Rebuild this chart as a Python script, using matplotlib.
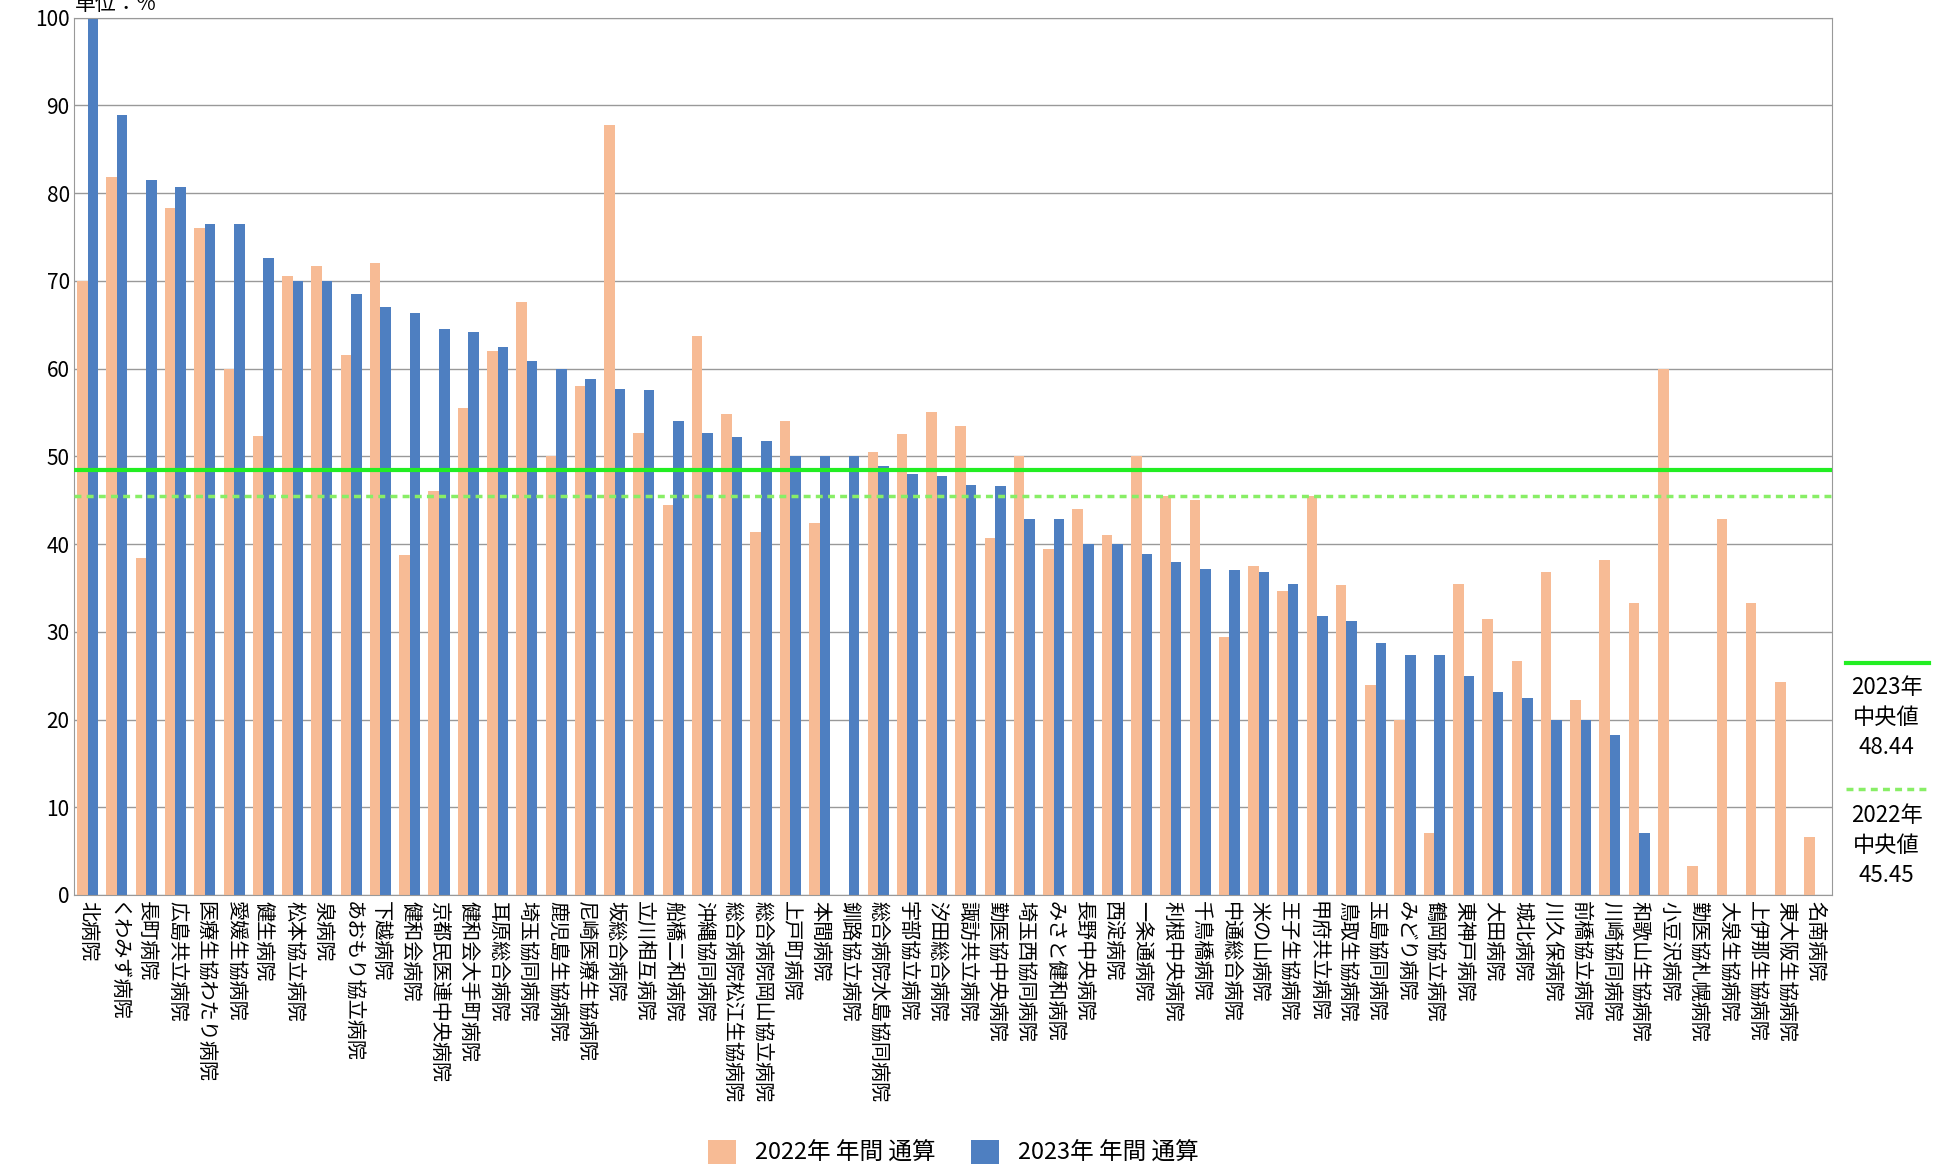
import numpy as np
import matplotlib.pyplot as plt
from matplotlib.lines import Line2D

plt.rcParams['font.family'] = ['Noto Sans CJK JP', 'DejaVu Sans']

hospitals = ["北病院", "くわみず病院", "長町病院", "広島共立病院", "医療生協わたり病院", "愛媛生協病院",
             "健生病院", "松本協立病院", "泉病院", "あおもり協立病院", "下越病院", "健和会病院",
             "京都民医連中央病院", "健和会大手町病院", "耳原総合病院", "埼玉協同病院", "鹿児島生協病院",
             "尼崎医療生協病院", "坂総合病院", "立川相互病院", "船橋二和病院", "沖縄協同病院",
             "総合病院松江生協病院", "総合病院岡山協立病院", "上戸町病院", "本間病院", "釧路協立病院",
             "総合病院水島協同病院", "宇部協立病院", "汐田総合病院", "諏訪共立病院", "勤医協中央病院",
             "埼玉西協同病院", "みさと健和病院", "長野中央病院", "西淀病院", "一条通病院", "利根中央病院",
             "千鳥橋病院", "中通総合病院", "米の山病院", "王子生協病院", "甲府共立病院", "鳥取生協病院",
             "玉島協同病院", "みどり病院", "鶴岡協立病院", "東神戸病院", "大田病院", "城北病院",
             "川久保病院", "前橋協立病院", "川崎協同病院", "和歌山生協病院", "小豆沢病院",
             "勤医協札幌病院", "大泉生協病院", "上伊那生協病院", "東大阪生協病院", "名南病院"]
y2022 = [70, 81.8, 38.4, 78.3, 76, 60, 52.3, 70.5, 71.7, 61.5, 72, 38.7, 46, 55.5, 62, 67.6, 50,
         58, 87.8, 52.7, 44.5, 63.7, 54.8, 41.4, 54, 42.4, 0, 50.5, 52.5, 55, 53.4, 40.7, 50, 39.4,
         44, 41, 50, 45.5, 45, 29.4, 37.5, 34.7, 45.5, 35.3, 23.9, 20, 7.1, 35.5, 31.5, 26.7, 36.8,
         22.2, 38.2, 33.3, 60, 3.3, 42.9, 33.3, 24.3, 6.6]
y2023 = [100, 88.9, 81.5, 80.7, 76.5, 76.5, 72.6, 70, 70, 68.5, 67, 66.3, 64.5, 64.2, 62.5, 60.9,
         60, 58.8, 57.7, 57.5, 54, 52.7, 52.2, 51.7, 50, 50, 50, 48.9, 48, 47.7, 46.7, 46.6, 42.9,
         42.9, 40, 40, 38.9, 38, 37.1, 37, 36.8, 35.5, 31.8, 31.2, 28.7, 27.3, 27.3, 25, 23.1, 22.5,
         20, 20, 18.2, 7.1, 0, 0, 0, 0, 0, 0]
median2023 = 48.44
median2022 = 45.45

orange = "#F7BB95"
blue = "#4E7FC1"

fig = plt.figure(figsize=(19.35, 11.73), dpi=100)
ax = fig.add_axes([0.0385, 0.237, 0.9085, 0.748])

x = np.arange(len(hospitals))
w = 0.36
ax.bar(x - w / 2, y2022, w, color=orange, label="2022年 年間 通算", zorder=2)
ax.bar(x + w / 2, y2023, w, color=blue, label="2023年 年間 通算", zorder=2)
ax.axhline(median2023, color="#22EE22", lw=3, zorder=3)
ax.axhline(median2022, color="#88EE66", lw=2.5, ls=(0, (2, 1.5)), zorder=3)

ax.set_ylim(0, 100)
ax.set_xlim(-0.45, len(hospitals) - 0.4)
ax.set_yticks(range(0, 101, 10))
ax.tick_params(axis="y", labelsize=15, length=0)
ax.set_xticks(x)
ax.set_xticklabels(hospitals, rotation=-90, fontsize=14.5, va="top", ha="center")
ax.tick_params(axis="x", length=0, pad=4)
ax.grid(axis="y", color="#999999", lw=1, zorder=0)
for s in ax.spines.values():
    s.set_color("#999999")
ax.text(0, 1.003, "単位：%", transform=ax.transAxes, fontsize=15, va="bottom", ha="left")

ax.legend(loc="upper center", bbox_to_anchor=(0.5, -0.255), ncol=2, frameon=False,
          fontsize=17, handlelength=1.2, handleheight=1.2, columnspacing=1.5)

# median legend at right
fig.add_artist(Line2D([0.954, 0.997], [0.435, 0.435], color="#22EE22", lw=3))
fig.text(0.975, 0.424, "2023年\n中央値\n48.44", ha="center", va="top", fontsize=16, linespacing=1.4)
fig.add_artist(Line2D([0.954, 0.997], [0.327, 0.327], color="#88EE66", lw=2.5, ls=(0, (2, 1.5))))
fig.text(0.975, 0.315, "2022年\n中央値\n45.45", ha="center", va="top", fontsize=16, linespacing=1.4)

fig.savefig("out.png", dpi=100)
